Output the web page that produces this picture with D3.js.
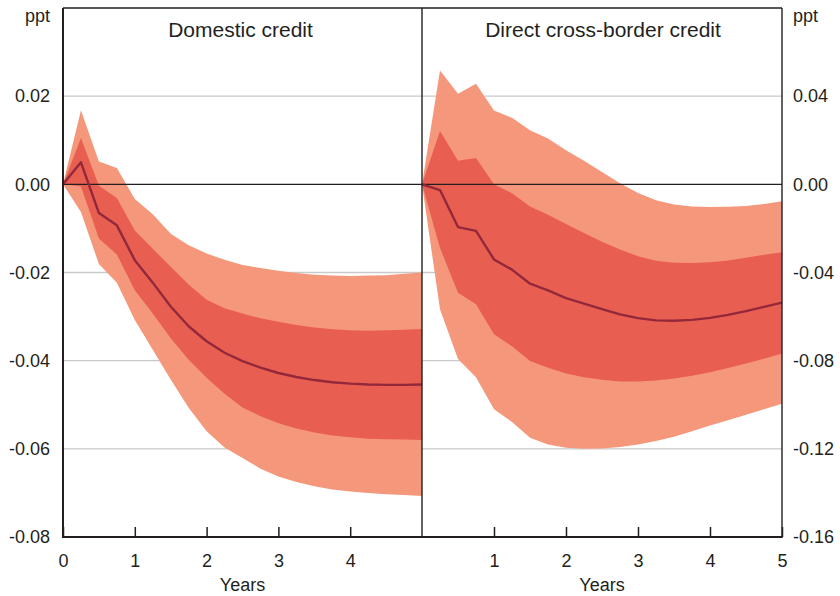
<!DOCTYPE html>
<html>
<head>
<meta charset="utf-8">
<script src="https://cdn.jsdelivr.net/npm/d3@7"></script>
<style>
  html, body { margin: 0; padding: 0; background: #fff; }
  svg { display: block; font-family: "Liberation Sans", Arial, Helvetica, sans-serif; }
  text { fill: #231f20; }
</style>
</head>
<body>
<svg id="chart" width="840" height="596"></svg>
<script>
// Horizon in years (quarterly steps)
const years = [0, 0.25, 0.5, 0.75, 1, 1.25, 1.5, 1.75, 2, 2.25, 2.5, 2.75, 3, 3.25, 3.5, 3.75, 4, 4.25, 4.5, 4.75, 5];

// Domestic credit response (ppt)
const domMedian  = [0, 0.0050, -0.0065, -0.0093, -0.0172, -0.0223, -0.0277, -0.0322, -0.0356, -0.0382, -0.0401, -0.0416, -0.0428, -0.0437, -0.0444, -0.0449, -0.0452, -0.0454, -0.0455, -0.0455, -0.0454];
const domInnerHi = [0, 0.0105, -0.0003, -0.0031, -0.0105, -0.0146, -0.0187, -0.0227, -0.0262, -0.0281, -0.0293, -0.0304, -0.0312, -0.0319, -0.0325, -0.0329, -0.0331, -0.0332, -0.0331, -0.0330, -0.0328];
const domInnerLo = [0, -0.0005, -0.0123, -0.0159, -0.0240, -0.0293, -0.0349, -0.0398, -0.0439, -0.0475, -0.0506, -0.0526, -0.0542, -0.0554, -0.0563, -0.0570, -0.0574, -0.0577, -0.0578, -0.0579, -0.0580];
const domOuterHi = [0, 0.0168, 0.0052, 0.0037, -0.0033, -0.0068, -0.0112, -0.0138, -0.0157, -0.0171, -0.0183, -0.0190, -0.0196, -0.0201, -0.0205, -0.0207, -0.0208, -0.0207, -0.0206, -0.0203, -0.0200];
const domOuterLo = [0, -0.0063, -0.0181, -0.0223, -0.0308, -0.0375, -0.0443, -0.0507, -0.0560, -0.0597, -0.0621, -0.0645, -0.0663, -0.0675, -0.0685, -0.0692, -0.0697, -0.0700, -0.0703, -0.0705, -0.0707];

// Direct cross-border credit response (ppt)
const xbMedian  = [0, -0.0026, -0.0194, -0.0211, -0.0341, -0.0387, -0.0451, -0.0481, -0.0516, -0.0541, -0.0566, -0.0590, -0.0607, -0.0617, -0.0619, -0.0615, -0.0606, -0.0592, -0.0575, -0.0556, -0.0537];
const xbInnerHi = [0, 0.0242, 0.0107, 0.0120, 0.0000, -0.0041, -0.0101, -0.0138, -0.0180, -0.0221, -0.0261, -0.0296, -0.0326, -0.0347, -0.0356, -0.0357, -0.0353, -0.0345, -0.0333, -0.0320, -0.0308];
const xbInnerLo = [0, -0.0289, -0.0492, -0.0544, -0.0680, -0.0735, -0.0802, -0.0832, -0.0858, -0.0875, -0.0887, -0.0894, -0.0895, -0.0890, -0.0881, -0.0868, -0.0852, -0.0833, -0.0813, -0.0791, -0.0768];
const xbOuterHi = [0, 0.0516, 0.0411, 0.0456, 0.0335, 0.0302, 0.0245, 0.0208, 0.0155, 0.0107, 0.0056, 0.0005, -0.0039, -0.0072, -0.0091, -0.0100, -0.0103, -0.0102, -0.0098, -0.0089, -0.0077];
const xbOuterLo = [0, -0.0567, -0.0793, -0.0875, -0.1020, -0.1078, -0.1150, -0.1180, -0.1195, -0.1200, -0.1198, -0.1192, -0.1180, -0.1165, -0.1145, -0.1120, -0.1094, -0.1070, -0.1045, -0.1020, -0.0995];

// Axis ticks
const leftYTicks  = [0.02, 0.00, -0.02, -0.04, -0.06, -0.08];
const rightYTicks = [0.04, 0.00, -0.04, -0.08, -0.12, -0.16];
const leftXTicks  = [0, 1, 2, 3, 4];
const rightXTicks = [1, 2, 3, 4, 5];
const panelTitles = ["Domestic credit", "Direct cross-border credit"];
const unitLabel = "ppt";
const xLabel = "Years";

const colOuter = "#f5977a";
const colInner = "#e85f52";
const colLine  = "#93283a";
const colFrame = "#231f20";
const colGrid  = "#c9c9c9";

const svg = d3.select("#chart");
const yTop = 8, yBottom = 537;
const x0 = 63, xMid = 422, x1 = 782;

const xL = d3.scaleLinear().domain([0, 5]).range([x0, xMid]);
const xR = d3.scaleLinear().domain([0, 5]).range([xMid, x1]);
const yL = d3.scaleLinear().domain([-0.08, 0.04]).range([yBottom, yTop]);
const yR = d3.scaleLinear().domain([-0.16, 0.08]).range([yBottom, yTop]);

const fmt = d3.formatLocale({decimal: ".", thousands: ",", grouping: [3], currency: ["", ""], minus: "-"}).format(".2f");

// Horizontal gridlines across both panels
svg.append("g").selectAll("line")
  .data(leftYTicks.filter(v => v !== 0 && v !== -0.08))
  .join("line")
  .attr("x1", x0).attr("x2", x1)
  .attr("y1", d => yL(d)).attr("y2", d => yL(d))
  .attr("stroke", colGrid).attr("stroke-width", 1.3);

// Confidence bands
function drawBands(x, y, outerHi, outerLo, innerHi, innerLo) {
  const g = svg.append("g");
  const idx = d3.range(years.length);
  const area = (hi, lo) => d3.area()
    .x(i => x(years[i]))
    .y0(i => y(lo[i]))
    .y1(i => y(hi[i]));
  g.append("path").datum(idx).attr("d", area(outerHi, outerLo)).attr("fill", colOuter);
  g.append("path").datum(idx).attr("d", area(innerHi, innerLo)).attr("fill", colInner);
  return g;
}
drawBands(xL, yL, domOuterHi, domOuterLo, domInnerHi, domInnerLo);
drawBands(xR, yR, xbOuterHi, xbOuterLo, xbInnerHi, xbInnerLo);

// Zero line
svg.append("line")
  .attr("x1", x0).attr("x2", x1)
  .attr("y1", yL(0)).attr("y2", yL(0))
  .attr("stroke", colFrame).attr("stroke-width", 1.4);

// Median lines
function drawMedian(x, y, vals) {
  svg.append("path")
    .datum(d3.range(years.length))
    .attr("d", d3.line().x(i => x(years[i])).y(i => y(vals[i])))
    .attr("fill", "none")
    .attr("stroke", colLine)
    .attr("stroke-width", 2.4)
    .attr("stroke-linejoin", "round");
}
drawMedian(xL, yL, domMedian);
drawMedian(xR, yR, xbMedian);

// Frame
const frame = svg.append("g").attr("stroke", colFrame).attr("fill", "none");
frame.append("line").attr("x1", x0).attr("x2", x1).attr("y1", yTop).attr("y2", yTop).attr("stroke-width", 1.4);
frame.append("line").attr("x1", x1).attr("x2", x1).attr("y1", yTop).attr("y2", yBottom).attr("stroke-width", 1.4);
frame.append("line").attr("x1", xMid).attr("x2", xMid).attr("y1", yTop).attr("y2", yBottom).attr("stroke-width", 1.4);
frame.append("line").attr("x1", x0).attr("x2", x0).attr("y1", yTop).attr("y2", yBottom + 1).attr("stroke-width", 2);
frame.append("line").attr("x1", x0 - 1).attr("x2", x1 + 0.7).attr("y1", yBottom).attr("y2", yBottom).attr("stroke-width", 2);

// Y axes
const axL = svg.append("g").attr("transform", `translate(${x0},0)`)
  .call(d3.axisLeft(yL).tickValues(leftYTicks).tickFormat(fmt).tickSize(0).tickPadding(13));
const axR = svg.append("g").attr("transform", `translate(${x1},0)`)
  .call(d3.axisRight(yR).tickValues(rightYTicks).tickFormat(fmt).tickSize(0).tickPadding(11));

// X axes with inward ticks
const axBL = svg.append("g").attr("transform", `translate(0,${yBottom})`)
  .call(d3.axisBottom(xL).tickValues(leftXTicks).tickFormat(d3.format("d")).tickSizeInner(-10).tickSizeOuter(0).tickPadding(17));
const axBR = svg.append("g").attr("transform", `translate(0,${yBottom})`)
  .call(d3.axisBottom(xR).tickValues(rightXTicks).tickFormat(d3.format("d")).tickSizeInner(-10).tickSizeOuter(0).tickPadding(17));

[axL, axR, axBL, axBR].forEach(a => {
  a.select(".domain").remove();
  a.selectAll("text").attr("font-size", 18).attr("font-family", null).style("fill", colFrame);
  a.selectAll(".tick line").attr("stroke", colFrame).attr("stroke-width", 1.5);
});

// Unit labels
svg.append("text").attr("x", 50).attr("y", 22).attr("text-anchor", "end").attr("font-size", 18).text(unitLabel);
svg.append("text").attr("x", 793).attr("y", 22).attr("text-anchor", "start").attr("font-size", 18).text(unitLabel);

// Panel titles
svg.append("text").attr("x", (x0 + xMid) / 2 - 2).attr("y", 37).attr("text-anchor", "middle").attr("font-size", 21).text(panelTitles[0]);
svg.append("text").attr("x", (xMid + x1) / 2 + 1).attr("y", 37).attr("text-anchor", "middle").attr("font-size", 21).text(panelTitles[1]);

// X axis titles
svg.append("text").attr("x", (x0 + xMid) / 2).attr("y", 591).attr("text-anchor", "middle").attr("font-size", 18).text(xLabel);
svg.append("text").attr("x", (xMid + x1) / 2).attr("y", 591).attr("text-anchor", "middle").attr("font-size", 18).text(xLabel);
</script>
</body>
</html>
